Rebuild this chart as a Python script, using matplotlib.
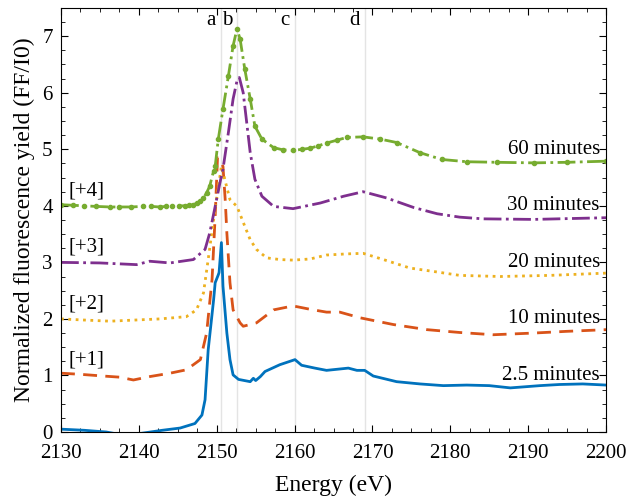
import matplotlib
matplotlib.use("Agg")
import matplotlib.pyplot as plt
from matplotlib.ticker import MultipleLocator

# 2.5 minutes (no offset)
e_25 = [2130, 2133, 2135.8, 2137, 2139, 2141.5, 2143, 2145.3, 2147.2, 2148.1, 2148.5, 2148.9,
        2149.6, 2149.8, 2150.2, 2150.3, 2150.6, 2150.8, 2151.3, 2151.7, 2152.1, 2152.8,
        2154.3, 2154.7, 2155.0, 2155.6, 2156.2, 2158.1, 2160.05, 2160.9, 2162.6, 2164.1,
        2166.9, 2168.0, 2169.0, 2170.1, 2173.1, 2176.1, 2179.1, 2182.1, 2185.0, 2187.7,
        2191.5, 2194.0, 2197.0, 2200]
y_25 = [0.05, 0.03, 0.0, -0.03, -0.05, 0.0, 0.03, 0.07, 0.15, 0.30, 0.57, 1.45,
        2.34, 2.64, 2.78, 2.82, 3.35, 2.58, 1.75, 1.28, 1.01, 0.93,
        0.89, 0.95, 0.91, 0.98, 1.07, 1.19, 1.28, 1.18, 1.13, 1.09,
        1.13, 1.09, 1.09, 0.99, 0.89, 0.85, 0.82, 0.83, 0.82, 0.78,
        0.82, 0.84, 0.85, 0.83]

# 10 minutes (+1)
e_10 = [2130, 2132.5, 2135.4, 2137.5, 2139.3, 2141.4, 2144.0, 2146.1, 2147.9, 2148.7,
        2149.4, 2149.8, 2150.1, 2150.8, 2151.1, 2151.3, 2151.7, 2152.1, 2153.0, 2153.4,
        2155.1, 2157.3, 2159.8, 2162.0, 2164.1, 2165.8, 2168.4, 2172.7, 2177.0, 2181.2,
        2185.5, 2190.7, 2194.9, 2200]
y_10 = [1.04, 1.02, 0.99, 0.97, 0.92, 0.98, 1.04, 1.10, 1.28, 1.75,
        2.70, 3.82, 4.85, 4.70, 4.08, 3.52, 2.64, 2.16, 1.93, 1.87,
        1.93, 2.16, 2.23, 2.17, 2.12, 2.12, 2.02, 1.90, 1.81, 1.76,
        1.72, 1.75, 1.78, 1.81]

# 20 minutes (+2)
e_20 = [2130, 2133, 2136.3, 2139.5, 2142.7, 2146.1, 2147.4, 2148.3, 2148.9, 2149.6,
        2150.6, 2151.7, 2152.6, 2153.6, 2154.3, 2155.1, 2156.4, 2158.1, 2159.8, 2162.0,
        2164.1, 2166.7, 2168.8, 2171.4, 2174.8, 2178.3, 2181.2, 2186.4, 2192.8, 2200]
y_20 = [2.00, 1.98, 1.96, 1.98, 2.00, 2.04, 2.16, 2.46, 3.05, 3.76,
        4.70, 4.11, 3.99, 3.64, 3.40, 3.23, 3.08, 3.05, 3.04, 3.06,
        3.13, 3.15, 3.16, 3.05, 2.90, 2.83, 2.77, 2.75, 2.77, 2.81]

# 30 minutes (+3)
e_30 = [2130, 2135, 2139.7, 2141.4, 2144.0, 2147.0, 2148.5, 2149.1, 2149.8, 2150.4,
        2150.8, 2151.5, 2152.1, 2152.6, 2152.9, 2153.4, 2153.8, 2154.3, 2154.9, 2155.8,
        2157.3, 2159.8, 2163.3, 2166.3, 2168.8, 2171.8, 2175.3, 2178.3, 2181.2, 2184.2,
        2190.7, 2200]
y_30 = [3.00, 2.99, 2.96, 3.02, 2.99, 3.05, 3.23, 3.52, 3.99, 4.40,
        4.65, 5.30, 5.89, 6.21, 6.27, 6.00, 5.53, 4.94, 4.47, 4.17,
        3.99, 3.95, 4.05, 4.17, 4.25, 4.14, 3.97, 3.86, 3.80, 3.77,
        3.76, 3.79]

# 60 minutes (+4)
e_60 = [2130, 2131.5, 2133, 2134.5, 2136.3, 2137.5, 2139, 2140.5, 2141.5, 2142.7, 2143.5,
        2144.3, 2145.1, 2145.9, 2146.5, 2147.0, 2147.5, 2147.9, 2148.3, 2148.7, 2149.1,
        2149.6, 2149.8, 2150.2, 2150.8, 2151.5, 2152.1, 2152.6, 2153.0, 2153.6, 2154.3,
        2154.9, 2155.8, 2157.3, 2158.5, 2159.8, 2161.0, 2162.0, 2163.0, 2164.1, 2165.4,
        2166.7, 2168.8, 2171.0, 2173.1, 2176.1, 2178.9, 2182.1, 2186.0, 2190.7, 2195.0, 2200]
y_60 = [4.02, 4.01, 4.00, 3.99, 3.98, 3.98, 3.98, 3.99, 3.99, 3.98, 3.99,
        3.99, 4.00, 4.00, 4.01, 4.02, 4.05, 4.08, 4.14, 4.23, 4.35,
        4.62, 4.70, 5.18, 5.71, 6.30, 6.83, 7.13, 6.95, 6.42, 5.89,
        5.41, 5.18, 5.03, 4.99, 4.98, 5.00, 5.02, 5.06, 5.11, 5.16,
        5.21, 5.22, 5.18, 5.12, 4.94, 4.82, 4.78, 4.77, 4.76, 4.77, 4.79]

labels = ["2.5 minutes", "10 minutes", "20 minutes", "30 minutes", "60 minutes"]
offset_labels = ["[+1]", "[+2]", "[+3]", "[+4]"]
features = ["a", "b", "c", "d"]
feature_e = [2150.5, 2152.6, 2160.0, 2169.0]

colors = ["#0072BD", "#D95319", "#EDB120", "#7E2F8E", "#77AC30"]

plt.rcParams["font.family"] = ["Liberation Serif", "DejaVu Serif"]
plt.rcParams["font.size"] = 15

fig = plt.figure(figsize=(6.38, 4.97), dpi=100)
ax = fig.add_axes([0.0956, 0.1308, 0.8544, 0.8532])

for e in feature_e:
    ax.axvline(e, color="#e4e4e4", lw=1.0, zorder=0)

lw = 2.0
ax.plot(e_25, y_25, "-", color=colors[0], lw=lw)
ax.plot(e_10, y_10, "--", color=colors[1], lw=lw, dashes=(5, 3))
ax.plot(e_20, y_20, ":", color=colors[2], lw=lw)
ax.plot(e_30, y_30, "-.", color=colors[3], lw=lw)
ax.plot(e_60, y_60, "-.", color=colors[4], lw=lw, marker=".", markersize=6)

for k, lab in enumerate(labels):
    ax.text(2199.2, k + 1.0, lab, ha="right", va="center", fontsize=15)
for k, lab in enumerate(offset_labels):
    ax.text(2131.0, k + 1.27, lab, ha="left", va="center", fontsize=15)
for lab, e in zip(features, feature_e):
    ax.text(e - 0.6, 7.27, lab, ha="right", va="center", fontsize=15)

ax.set_xlim(2130, 2200)
ax.set_ylim(0, 7.5)
ax.xaxis.set_major_locator(MultipleLocator(10))
ax.xaxis.set_minor_locator(MultipleLocator(2.5))
ax.yaxis.set_major_locator(MultipleLocator(1))
ax.yaxis.set_minor_locator(MultipleLocator(0.25))
ax.tick_params(which="both", direction="in", top=True, right=True)
ax.tick_params(which="major", length=5)
ax.tick_params(which="minor", length=3)
ax.tick_params(axis="x", pad=9)
ax.tick_params(axis="y", pad=6)
ax.set_xlabel("Energy (eV)", fontsize=17, labelpad=8)
ax.set_ylabel("Normalized fluorescence yield (FF/I0)", fontsize=17, labelpad=5)

fig.savefig("out.png", dpi=100)
